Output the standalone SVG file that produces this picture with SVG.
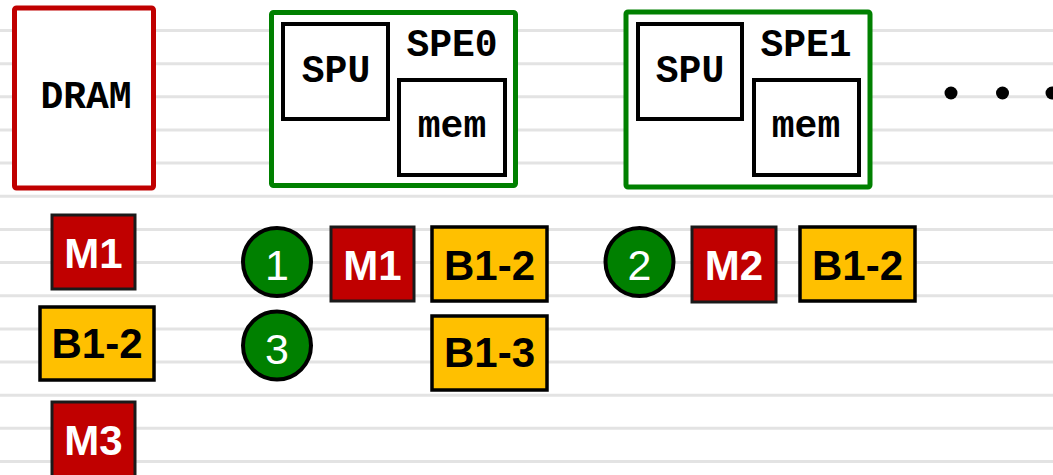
<svg xmlns="http://www.w3.org/2000/svg" width="1053" height="475" viewBox="0 0 1053 475">
  <style>
    .rule { stroke: #e3e3e3; stroke-width: 3; }
    .dram { fill: #ffffff; stroke: #c00000; stroke-width: 5; }
    .spe { fill: #ffffff; stroke: #008000; stroke-width: 5; }
    .unit { fill: #ffffff; stroke: #000000; stroke-width: 4; }
    .mono { font-family: "Liberation Mono", "Courier New", monospace; font-weight: bold; font-size: 38px; fill: #000000; text-anchor: middle; }
    .msg { fill: #c00000; stroke: #1a1a1a; stroke-width: 3; }
    .buf { fill: #ffc000; stroke: #000000; stroke-width: 3.5; }
    .step { fill: #008000; stroke: #000000; stroke-width: 4; }
    .lbl { font-family: "Liberation Sans", Arial, sans-serif; font-weight: bold; font-size: 42px; text-anchor: middle; }
    .white { fill: #ffffff; }
    .black { fill: #000000; }
    .num { font-family: "Liberation Sans", Arial, sans-serif; font-size: 43px; fill: #ffffff; text-anchor: middle; }
  </style>

  <!-- ruled background -->
  <g id="background">
    <rect x="0" y="0" width="1053" height="475" fill="#ffffff"/>
    <g class="rule">
      <line x1="0" y1="30.5" x2="1053" y2="30.5"/>
      <line x1="0" y1="63.7" x2="1053" y2="63.7"/>
      <line x1="0" y1="96.8" x2="1053" y2="96.8"/>
      <line x1="0" y1="130" x2="1053" y2="130"/>
      <line x1="0" y1="163.1" x2="1053" y2="163.1"/>
      <line x1="0" y1="196.3" x2="1053" y2="196.3"/>
      <line x1="0" y1="229.4" x2="1053" y2="229.4"/>
      <line x1="0" y1="262.6" x2="1053" y2="262.6"/>
      <line x1="0" y1="295.7" x2="1053" y2="295.7"/>
      <line x1="0" y1="328.9" x2="1053" y2="328.9"/>
      <line x1="0" y1="362" x2="1053" y2="362"/>
      <line x1="0" y1="395.2" x2="1053" y2="395.2"/>
      <line x1="0" y1="428.3" x2="1053" y2="428.3"/>
      <line x1="0" y1="461.5" x2="1053" y2="461.5"/>
    </g>
  </g>

  <!-- memory and processing elements -->
  <g id="dram">
    <rect class="dram" x="14.5" y="8" width="139" height="180" rx="2"/>
    <text class="mono" x="86" y="108">DRAM</text>
  </g>

  <g id="spe0">
    <rect class="spe" x="271.5" y="12.5" width="244" height="173" rx="2"/>
    <rect class="unit" x="283" y="24" width="105" height="95"/>
    <text class="mono" x="336" y="82">SPU</text>
    <text class="mono" x="452" y="56">SPE0</text>
    <rect class="unit" x="399" y="80" width="106" height="95"/>
    <text class="mono" x="452" y="137">mem</text>
  </g>

  <g id="spe1">
    <rect class="spe" x="626" y="12" width="244" height="175" rx="2"/>
    <rect class="unit" x="638" y="24" width="104" height="95"/>
    <text class="mono" x="690" y="82">SPU</text>
    <text class="mono" x="806" y="56">SPE1</text>
    <rect class="unit" x="754" y="80" width="105" height="95"/>
    <text class="mono" x="806" y="137">mem</text>
  </g>

  <g id="ellipsis">
    <circle cx="951" cy="93" r="6.5" fill="#000000"/>
    <circle cx="1002.5" cy="93" r="6.5" fill="#000000"/>
    <circle cx="1052" cy="93" r="6.5" fill="#000000"/>
  </g>

  <!-- DRAM contents -->
  <g id="dram-m1">
    <rect class="msg" x="52" y="215" width="83" height="74"/>
    <text class="lbl white" x="93.5" y="268">M1</text>
  </g>
  <g id="dram-b1-2">
    <rect class="buf" x="40" y="307" width="114" height="73"/>
    <text class="lbl black" x="97" y="358">B1-2</text>
  </g>
  <g id="dram-m3">
    <rect class="msg" x="52" y="402" width="83" height="80"/>
    <text class="lbl white" x="93.5" y="455">M3</text>
  </g>

  <!-- step 1 / step 3 on SPE0 -->
  <g id="step1">
    <circle class="step" cx="277" cy="262" r="34"/>
    <text class="num" x="277" y="280">1</text>
  </g>
  <g id="spe0-m1">
    <rect class="msg" x="331" y="227" width="83" height="74"/>
    <text class="lbl white" x="372.5" y="280">M1</text>
  </g>
  <g id="spe0-b1-2">
    <rect class="buf" x="432" y="227" width="115" height="74"/>
    <text class="lbl black" x="489.5" y="280">B1-2</text>
  </g>
  <g id="step3">
    <circle class="step" cx="277" cy="345.5" r="34"/>
    <text class="num" x="277" y="363.5">3</text>
  </g>
  <g id="spe0-b1-3">
    <rect class="buf" x="432" y="316" width="115" height="74"/>
    <text class="lbl black" x="489.5" y="367">B1-3</text>
  </g>

  <!-- step 2 on SPE1 -->
  <g id="step2">
    <circle class="step" cx="639.5" cy="262" r="34"/>
    <text class="num" x="639.5" y="280">2</text>
  </g>
  <g id="spe1-m2">
    <rect class="msg" x="692" y="227" width="84" height="75"/>
    <text class="lbl white" x="734" y="280">M2</text>
  </g>
  <g id="spe1-b1-2">
    <rect class="buf" x="800" y="227" width="115" height="74"/>
    <text class="lbl black" x="857.5" y="280">B1-2</text>
  </g>

  <g id="connectors"></g>
</svg>
